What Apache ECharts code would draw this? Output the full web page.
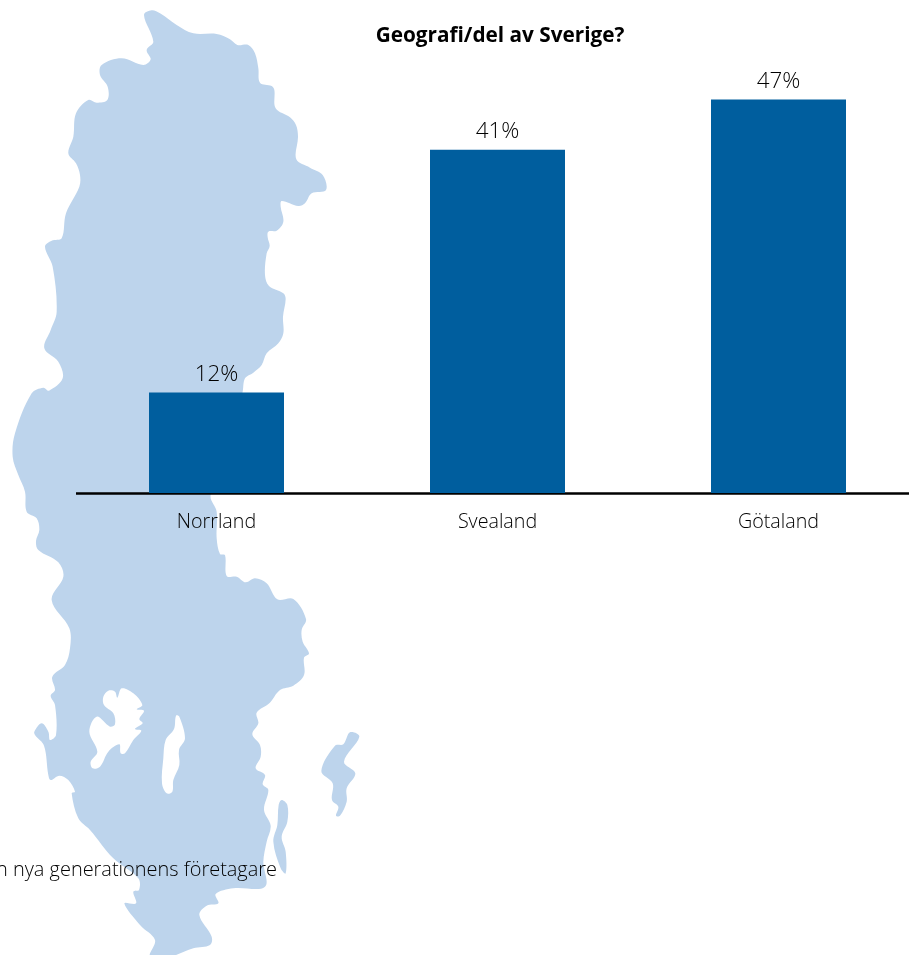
<!DOCTYPE html>
<html><head><meta charset="utf-8">
<style>html,body{margin:0;padding:0;background:#fff}#c{width:909px;height:955px}</style>
<script src="https://cdn.jsdelivr.net/npm/echarts@6/dist/echarts.min.js"></script>
</head><body><div id="c"></div>
<script>
const categories = ["Norrland", "Svealand", "Götaland"];
const values = [12, 41, 47];
const titleText = "Geografi/del av Sverige?";
const footerText = "Den nya generationens företagare";

const FONT = '"Open Sans"';
// Decorative silhouette of Sweden, traced at 3x from the picture
const upper = [[432,45],[455,31],[480,40],[530,75],[580,100],[650,102],[690,118],[712,135],[745,135],[765,160],[775,205],[780,248],[815,258],[823,270],[827,325],[870,352],[888,375],[894,410],[889,478],[930,503],[968,525],[978,570],[935,580],[915,610],[895,618],[845,603],[842,620],[850,665],[830,692],[805,695],[803,712],[809,738],[800,760],[795,825],[807,858],[850,880],[857,897],[849,950],[850,1000],[835,1030],[800,1060],[785,1095],[760,1118],[735,1135],[727,1180]];
const lowerRight = [[632,60],[650,110],[650,190],[660,237],[675,240],[680,303],[710,305],[737,322],[765,310],[800,325],[832,373],[880,372],[918,432],[905,465],[908,500],[927,535],[912,548],[912,600],[880,632],[840,645],[808,685],[770,713],[775,745],[757,778],[780,810],[782,845],[767,880],[795,900],[788,928],[805,945],[792,1005],[812,1052],[800,1100],[790,1160],[795,1235],[700,1240],[647,1257],[655,1285],[620,1292],[598,1320],[635,1385],[630,1410],[580,1420],[510,1445],[450,1445],[465,1395],[420,1350],[373,1285],[408,1285],[400,1250],[417,1245],[415,1210],[340,1150],[270,1065],[235,1030],[215,955],[225,950],[205,915],[178,902],[152,915],[145,900],[132,812],[105,780],[103,770],[125,745],[145,770],[150,795],[168,780],[165,690],[152,662],[165,645],[157,605],[195,570],[210,520],[208,460],[155,375],[190,305],[175,262],[115,225],[108,198],[118,165],[110,130],[80,110],[75,50],[55,0]];
const upperLeft = [[38,1370],[45,1300],[95,1180],[130,1163],[147,1172],[188,1135],[175,1085],[133,1045],[152,990],[170,935],[158,800],[135,740],[155,722],[185,715],[198,640],[238,560],[240,525],[228,490],[205,460],[220,410],[228,340],[265,300],[290,308],[322,300],[323,260],[300,225],[305,195],[365,175],[430,195],[452,178],[440,150],[460,125]];
const gotland = [[1050,772],[1078,785],[1032,860],[1066,895],[1040,940],[1040,980],[1020,1022],[1008,1022],[1015,995],[996,975],[998,925],[964,888],[1005,812],[1030,808]];
const oland = [[845,975],[862,990],[862,1040],[845,1085],[857,1130],[857,1195],[842,1180],[820,1100],[832,1050],[836,990]];
const vanern = [[310,665],[325,647],[345,650],[352,668],[365,640],[400,655],[427,690],[410,703],[432,707],[418,732],[428,745],[405,762],[424,767],[400,795],[375,835],[362,835],[358,808],[325,830],[300,875],[278,880],[272,860],[292,830],[268,770],[290,725],[330,755],[345,748],[340,715],[312,690]];
const vattern = [[528,722],[538,725],[555,790],[537,825],[538,870],[520,915],[517,950],[500,955],[486,925],[490,850],[497,795],[522,762]];
const toPts = (a, dy) => a.map(p => [p[0] / 3, p[1] / 3 + dy]);
const mainland = toPts(upper, 0).concat(toPts(lowerRight, 475), toPts(upperLeft, 0));
const poly = (pts, fill) => ({type:'polygon', z:-10, silent:true, shape:{points:pts, smooth:0.35}, style:{fill}});
const MAP = '#bdd4ec';

const chart = echarts.init(document.getElementById('c'), null, {renderer:'canvas'});
chart.setOption({
  animation:false,
  backgroundColor:'#fff',
  title:{text:titleText, left:495, top:21, textAlign:'center', textStyle:{fontFamily:FONT, fontWeight:'bold', fontSize:20.75, color:'#000'}},
  grid:{left:76, top:74.5, width:843, height:418.5, outerBoundsMode:'none', containLabel:false},
  xAxis:{type:'category', data:categories,
    axisLine:{show:true, lineStyle:{color:'#000', width:2.5, cap:'butt'}},
    axisTick:{show:false},
    axisLabel:{fontFamily:FONT, fontWeight:300, fontSize:19.7, color:'#000', margin:19}},
  yAxis:{type:'value', min:0, max:50, show:false, splitLine:{show:false}},
  series:[{type:'bar', data:values, barWidth:135, itemStyle:{color:'#005e9e'},
    label:{show:true, position:'top', distance:7, formatter:'{c}%', fontFamily:FONT, fontWeight:300, fontSize:22.4, color:'#000'}}],
  graphic:{elements:[
    poly(mainland, MAP), poly(toPts(gotland,475), MAP), poly(toPts(oland,475), MAP),
    poly(toPts(vanern,475), '#fff'), poly(toPts(vattern,475), '#fff'),
    {type:'text', z:5, silent:true, x:277, y:870, style:{text:footerText, align:'right', verticalAlign:'middle', fontFamily:FONT, fontWeight:300, fontSize:19.95, fill:'#000'}}
  ]}
});
</script></body></html>
